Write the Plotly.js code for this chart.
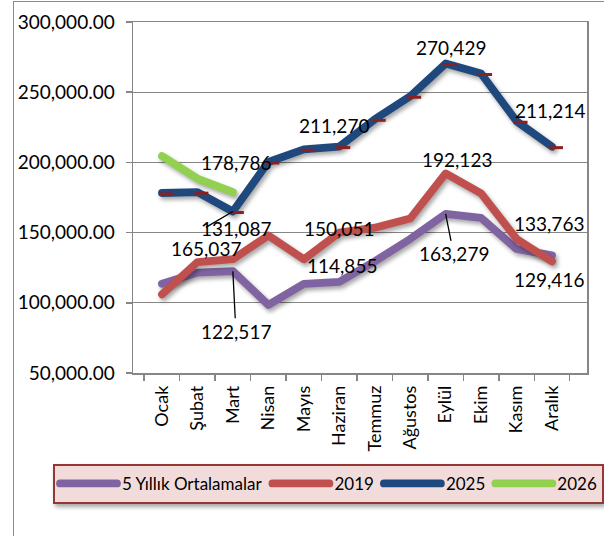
<!DOCTYPE html>
<html>
<head>
<meta charset="utf-8">
<script src="https://cdn.plot.ly/plotly-3.0.1.min.js"></script>
<style>
  html, body { margin: 0; padding: 0; background: #ffffff; }
  #chart { position: absolute; left: 0; top: 0; width: 604px; height: 536px; }
  #frame { position: absolute; left: 13px; top: 1px; width: 620px; height: 560px;
           border-left: 1.5px solid #8a8a8a; border-top: 1.5px solid #8a8a8a; pointer-events: none; }
  .scatterlayer .trace path.js-line { stroke-linecap: round; stroke-linejoin: round;
           filter: drop-shadow(2px 3px 2px rgba(0,0,0,0.35)); }
  .scatterlayer .trace:nth-child(3) .points { transform: translate(4px, 1px); }
  .legend .bg { filter: drop-shadow(2px 3px 2px rgba(0,0,0,0.35)); }
  .legend .legendlines path { stroke-linecap: round; }
  .legend .legendpoints { display: none; }
</style>
</head>
<body>
<div id="chart"></div>
<div id="frame"></div>
<script>
// ---- data ----
var months = ['Ocak','Şubat','Mart','Nisan','Mayıs','Haziran','Temmuz','Ağustos','Eylül','Ekim','Kasım','Aralık'];
var avg5   = [113600, 121500, 122517, 98500, 113500, 114855, 129500, 145500, 163279, 160500, 138300, 133763];
var y2019  = [106000, 129000, 131087, 148000, 131000, 150051, 153500, 160000, 192123, 178000, 145500, 129416];
var y2025  = [178200, 178800, 165037, 200300, 209300, 211270, 230700, 247100, 270429, 263300, 229300, 211214];
var y2026  = [204500, 188500, 178786];
var seriesNames = ['5 Yıllık Ortalamalar', '2019', '2025', '2026'];
var yTickVals = [50000, 100000, 150000, 200000, 250000, 300000];

var series = [avg5, y2019, y2025, y2026];
var colors = ['#8064a2', '#c0504d', '#1f497d', '#92d050'];

var traces = series.map(function (vals, i) {
  var t = {
    type: 'scatter',
    mode: i === 2 ? 'lines+markers' : 'lines',
    name: seriesNames[i],
    x: months.slice(0, vals.length),
    y: vals,
    line: { color: colors[i], width: 7.8 },
    hoverinfo: 'skip'
  };
  if (i === 2) {
    t.marker = { symbol: 'line-ew', size: 10, color: '#8b2020', line: { color: '#8b2020', width: 3 } };
  }
  return t;
});

// data labels: [series index, point index, placement]
var labelFont = { family: 'Lato, sans-serif', size: 19, color: '#000000' };
var labelSpecs = [
  { s: 3, p: 2,  xs: 3,   ys: 30 },
  { s: 1, p: 2,  xs: 3,   ys: 30.5 },
  { s: 2, p: 2,  xs: -27, ys: -37 },
  { s: 0, p: 2,  ax: 3,   ay: 60 },
  { s: 1, p: 5,  xs: 0,   ys: 4 },
  { s: 0, p: 5,  xs: 3,   ys: 16 },
  { s: 2, p: 5,  xs: -5,  ys: 21 },
  { s: 2, p: 8,  xs: 5,   ys: 16 },
  { s: 1, p: 8,  xs: 11,  ys: 14 },
  { s: 0, p: 8,  ax: 8,   ay: 40 },
  { s: 2, p: 11, xs: -2,  ys: 36 },
  { s: 0, p: 11, xs: -3,  ys: 32 },
  { s: 1, p: 11, xs: -3,  ys: -18 }
];
var annotations = labelSpecs.map(function (L) {
  var v = series[L.s][L.p];
  var a = {
    xref: 'x', yref: 'y', x: months[L.p], y: v,
    text: v.toLocaleString('en-US'),
    font: labelFont
  };
  if (L.ax !== undefined) {
    a.showarrow = true; a.arrowhead = 0; a.arrowwidth = 1.3; a.arrowcolor = '#000000';
    a.ax = L.ax; a.ay = L.ay;
  } else {
    a.showarrow = false; a.xshift = L.xs; a.yshift = L.ys;
  }
  return a;
});
// leader line near the March labels
annotations.push({
  xref: 'x', yref: 'y', x: months[2], y: y2025[2], text: ' ',
  showarrow: true, arrowhead: 0, arrowwidth: 1.3, arrowcolor: '#000000',
  ax: -29, ay: 17, font: { size: 2 }
});

var layout = {
  width: 604, height: 536,
  margin: { l: 133, r: 17, t: 22, b: 163 },
  paper_bgcolor: '#ffffff', plot_bgcolor: '#ffffff',
  font: { family: 'Lato, sans-serif', color: '#000000' },
  showlegend: true,
  legend: {
    orientation: 'h', x: -0.155, xanchor: 'left', y: -0.259, yanchor: 'top',
    bgcolor: '#f2dcdb', bordercolor: '#953735', borderwidth: 2,
    font: { family: 'Lato, sans-serif', size: 17, color: '#000000' },
    itemwidth: 57, traceorder: 'normal'
  },
  xaxis: {
    type: 'category', categoryarray: months,
    tickson: 'boundaries', ticks: 'outside', ticklen: 6, tickcolor: '#868686', tickwidth: 1.5,
    tickangle: -90, tickfont: { family: 'Lato, sans-serif', size: 18, color: '#000000' },
    showgrid: false, showline: true, linecolor: '#868686', linewidth: 1.5, mirror: true,
    ticklabelstandoff: 4, fixedrange: true
  },
  yaxis: {
    range: [50000, 300000], tickvals: yTickVals, tickformat: ',.2f',
    ticks: 'outside', ticklen: 6, tickcolor: '#868686', tickwidth: 1.5,
    tickfont: { family: 'Lato, sans-serif', size: 19, color: '#000000' },
    showgrid: true, gridcolor: '#868686', gridwidth: 1.3,
    showline: true, linecolor: '#868686', linewidth: 1.5, mirror: true,
    zeroline: false, ticklabelstandoff: 7, fixedrange: true
  },
  annotations: annotations
};

Plotly.newPlot('chart', traces, layout, { displayModeBar: false, staticPlot: true });
</script>
</body>
</html>
